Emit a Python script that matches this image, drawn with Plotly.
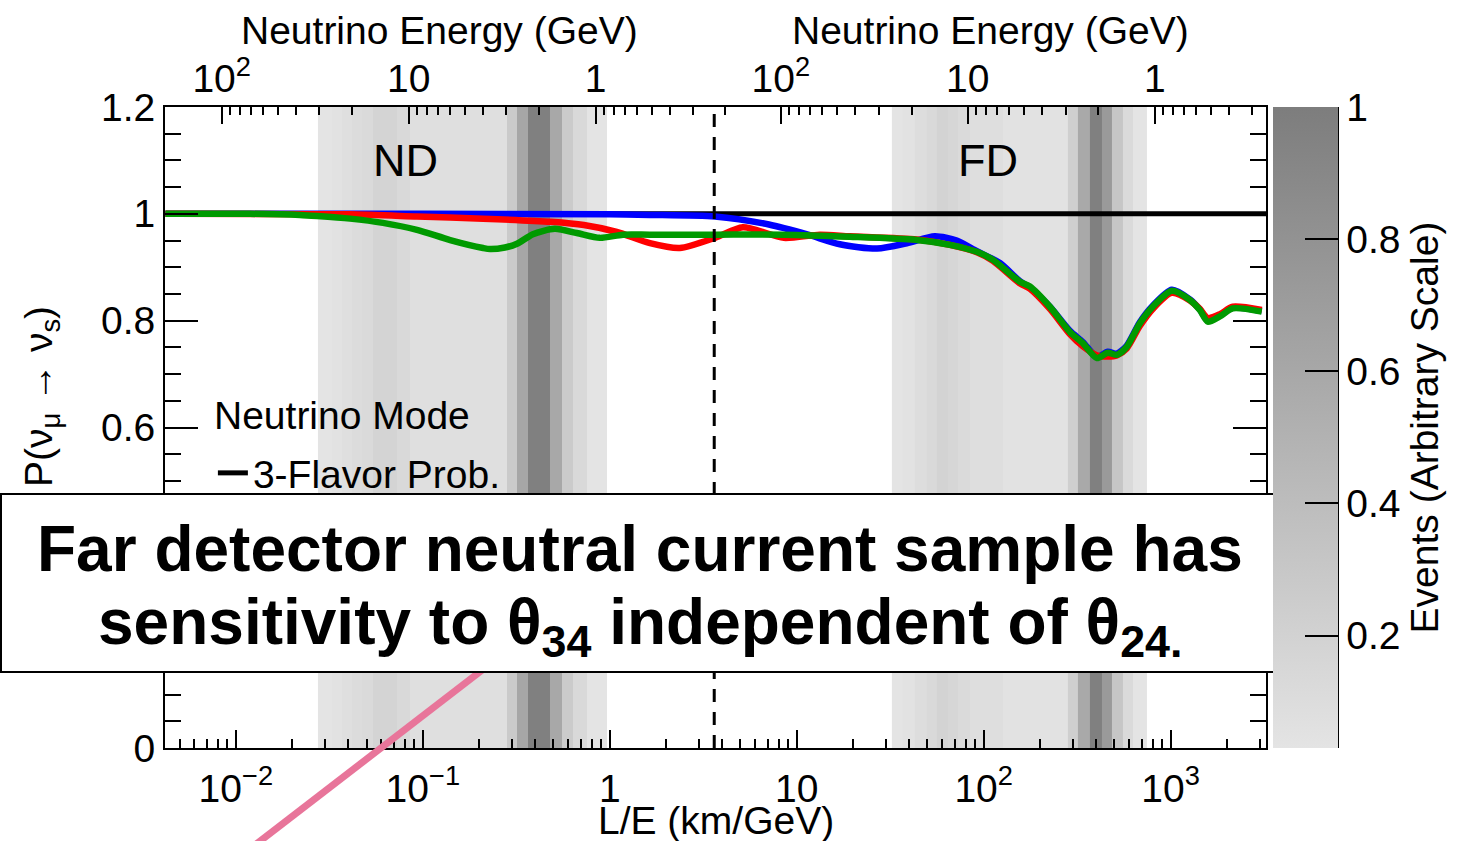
import plotly.graph_objects as go

FONT = "Liberation Sans, Arial, Helvetica, sans-serif"
FS = 39

# L/E axis range (log10 of km/GeV)
le_range_log = [-2.379, 3.51]

# baselines (km) used to label the neutrino-energy axes
L_ND = 0.84
L_FD = 822.0
energy_major = [100, 10, 1]
energy_major_text = ["10<sup>2</sup>", "10", "1"]
nd_energy_minor = [90, 80, 70, 60, 50, 40, 30, 20, 9, 8, 7, 6, 5, 4, 3, 2,
                   0.9, 0.8, 0.7, 0.6, 0.5, 0.4, 0.3]
fd_energy_minor = [200] + nd_energy_minor

le_major = [0.01, 0.1, 1, 10, 100, 1000]
le_major_text = ["10<sup>\u22122</sup>", "10<sup>\u22121</sup>", "1", "10",
                 "10<sup>2</sup>", "10<sup>3</sup>"]

# event distributions in L/E (bin edges, relative event rate)
nd_edges = [0.0275, 0.0327, 0.0370, 0.0418, 0.0472, 0.0541, 0.0728, 0.0853,
            0.282, 0.318, 0.365, 0.479, 0.555, 0.635, 0.755, 0.966]
nd_events = [0.03, 0.05, 0.08, 0.105, 0.12, 0.18, 0.13, 0.08,
             0.275, 0.61, 0.97, 0.595, 0.265, 0.13, 0.03]
fd_edges = [32.3, 37.0, 42.9, 49.7, 56.1, 64.3, 72.7, 84.3, 126.5,
            281.8, 318.6, 369.8, 428.6, 484.2, 554.6, 627.0, 745.0]
fd_events = [0.03, 0.05, 0.095, 0.13, 0.19, 0.16, 0.12, 0.087, 0.05,
             0.23, 0.585, 0.97, 0.73, 0.31, 0.12, 0.03]

# 3-flavor probability
le_3flavor = [0.0042, 3240]
p_3flavor = [1.0, 1.0]

# 3+1 probabilities
le_blue = [0.0042, 0.1, 1.0, 1.64, 3.65, 7.1, 11.5, 17.0, 26.9, 38.8, 54.8,
           71.8, 91.9, 122, 156, 176.5, 226, 289, 339, 403, 461, 515, 582,
           684, 802, 1014, 1266, 1432, 1581, 1833, 2149, 3070]
p_blue = [1.0, 1.0, 0.999, 0.998, 0.995, 0.980, 0.961, 0.943, 0.935, 0.945,
          0.958, 0.950, 0.930, 0.908, 0.874, 0.862, 0.826, 0.781, 0.760,
          0.732, 0.742, 0.738, 0.753, 0.797, 0.828, 0.858, 0.840, 0.821,
          0.800, 0.810, 0.824, 0.818]

le_red = [0.0042, 0.0408, 0.093, 0.210, 0.483, 0.727, 1.09, 1.64, 2.37, 3.65,
          5.15, 8.53, 13.3, 19.2, 43.9, 65.9, 91.9, 112, 156, 176.5, 226, 289,
          339, 403, 461, 515, 582, 684, 802, 1014, 1266, 1432, 1581, 1833,
          2149, 3070]
p_red = [1.0, 0.999, 0.995, 0.991, 0.985, 0.979, 0.966, 0.945, 0.936, 0.955,
         0.975, 0.955, 0.961, 0.958, 0.952, 0.942, 0.928, 0.912, 0.870, 0.860,
         0.822, 0.775, 0.752, 0.735, 0.733, 0.735, 0.748, 0.790, 0.822, 0.852,
         0.838, 0.822, 0.805, 0.812, 0.826, 0.820]

le_green = [0.0042, 0.0119, 0.022, 0.0272, 0.0408, 0.0612, 0.093, 0.140,
            0.210, 0.229, 0.275, 0.319, 0.388, 0.508, 0.667, 0.885, 1.175,
            1.64, 3.65, 8.5, 19.2, 43.9, 65.9, 91.9, 112, 156, 176.5, 226,
            289, 339, 403, 461, 515, 582, 684, 802, 1014, 1266, 1432, 1581,
            1833, 2149, 3070]
p_green = [1.0, 1.0, 0.998, 0.996, 0.991, 0.983, 0.970, 0.951, 0.936, 0.934,
           0.937, 0.944, 0.962, 0.972, 0.964, 0.955, 0.961, 0.961, 0.961,
           0.961, 0.957, 0.951, 0.942, 0.929, 0.914, 0.873, 0.864, 0.826,
           0.779, 0.758, 0.730, 0.740, 0.736, 0.751, 0.795, 0.826, 0.856,
           0.839, 0.820, 0.798, 0.808, 0.823, 0.817]

# ND / FD boundary on the L/E axis
le_boundary = 3.62

fig = go.Figure()

for edges, ev in ((nd_edges, nd_events), (fd_edges, fd_events)):
    fig.add_trace(go.Heatmap(x=edges, y=[0, 1.2], z=[ev], coloraxis="coloraxis",
                             hoverinfo="skip"))

fig.add_trace(go.Scatter(x=le_3flavor, y=p_3flavor, mode="lines",
                         line=dict(color="black", width=5),
                         name="3-Flavor Prob.", showlegend=True))
for le, p, col in ((le_blue, p_blue, "#0000ff"), (le_red, p_red, "#ff0000"),
                   (le_green, p_green, "#009a00")):
    fig.add_trace(go.Scatter(x=le, y=p, mode="lines", showlegend=False,
                             line=dict(color=col, width=6.5, shape="spline",
                                       smoothing=0.7)))

fig.add_trace(go.Scatter(x=[le_boundary, le_boundary], y=[0, 1.2], mode="lines",
                         xaxis="x2", showlegend=False,
                         line=dict(color="black", width=3, dash="13px,10px")))

le_minor = [m * 10 ** d for d in range(-3, 4) for m in range(2, 10)
            if 10 ** le_range_log[0] < m * 10 ** d < 10 ** le_range_log[1]]

top_major = [L_ND / e for e in energy_major] + [L_FD / e for e in energy_major]
top_text = energy_major_text + energy_major_text
top_minor = [L_ND / e for e in nd_energy_minor] + [L_FD / e for e in fd_energy_minor]

axis_font = dict(family=FONT, size=FS, color="black")

fig.update_layout(
    width=1484, height=841, autosize=False,
    margin=dict(l=165, r=218, t=107, b=93),
    paper_bgcolor="white", plot_bgcolor="white",
    font=dict(family=FONT, size=FS, color="black"),
    xaxis=dict(type="log", range=le_range_log, showgrid=False, zeroline=False,
               showline=True, linecolor="black", linewidth=2,
               ticks="inside", ticklen=18, tickwidth=2, tickcolor="black",
               tickmode="array", tickvals=le_major, ticktext=le_major_text,
               tickfont=axis_font, ticklabelstandoff=5,
               minor=dict(tickmode="array", tickvals=le_minor, ticks="inside",
                          ticklen=9, tickwidth=2, tickcolor="black")),
    xaxis2=dict(type="log", range=le_range_log, overlaying="x", side="top",
                showgrid=False, zeroline=False, showline=True,
                linecolor="black", linewidth=2,
                ticks="inside", ticklen=17, tickwidth=2, tickcolor="black",
                tickmode="array", tickvals=top_major, ticktext=top_text,
                tickfont=axis_font, ticklabelstandoff=-3,
                minor=dict(tickmode="array", tickvals=top_minor, ticks="inside",
                           ticklen=8, tickwidth=2, tickcolor="black")),
    yaxis=dict(range=[0, 1.2], showgrid=False, zeroline=False, showline=True,
               linecolor="black", linewidth=2, mirror="ticks",
               ticks="inside", ticklen=33, tickwidth=2, tickcolor="black",
               tickmode="linear", tick0=0, dtick=0.2, tickfont=axis_font,
               ticklabelstandoff=0,
               minor=dict(dtick=0.05, ticks="inside", ticklen=16, tickwidth=2,
                          tickcolor="black")),
    coloraxis=dict(cmin=0.03, cmax=1.0,
                   colorscale=[[0, "#e4e4e4"], [1, "#7d7d7d"]],
                   colorbar=dict(x=1.0064, xanchor="left", xpad=0, ypad=0,
                                 y=0.5, yanchor="middle", len=1, lenmode="fraction",
                                 thickness=65, thicknessmode="pixels",
                                 outlinewidth=0, ticks="inside", ticklen=33,
                                 tickwidth=2, tickcolor="black",
                                 tickvals=[0.2, 0.4, 0.6, 0.8, 1.0],
                                 ticktext=["0.2", "0.4", "0.6", "0.8", "1"],
                                 tickfont=axis_font,
                                 title=dict(text="Events (Arbitrary Scale)",
                                            side="right", font=axis_font))),
    legend=dict(x=0.0435, y=0.429, xanchor="left", yanchor="middle",
                bgcolor="rgba(0,0,0,0)", borderwidth=0,
                font=dict(family=FONT, size=FS, color="black")),
    showlegend=True,
)

def px_x(px):
    return (px - 165) / 1101.0

def px_y(py):
    return (748 - py) / 641.0

shapes = [
    # right edge of the colour scale
    dict(type="line", xref="paper", yref="paper", x0=px_x(1338), x1=px_x(1338),
         y0=0, y1=1, line=dict(color="black", width=2)),
    # pointer line
    dict(type="line", xref="paper", yref="paper", x0=px_x(255), y0=px_y(845),
         x1=px_x(703), y1=px_y(500), line=dict(color="#e8759a", width=7)),
    # callout box
    dict(type="rect", xref="paper", yref="paper", x0=px_x(1), x1=px_x(1279),
         y0=px_y(672), y1=px_y(494), fillcolor="white",
         line=dict(color="black", width=2)),
]
fig.update_layout(shapes=shapes)

ann = [
    dict(text="Neutrino Energy (GeV)", x=px_x(439), y=px_y(30)),
    dict(text="Neutrino Energy (GeV)", x=px_x(990), y=px_y(30)),
    dict(text="ND", x=px_x(405), y=px_y(160), font=dict(family=FONT, size=45, color="black")),
    dict(text="FD", x=px_x(988), y=px_y(160), font=dict(family=FONT, size=45, color="black")),
    dict(text="Neutrino Mode", x=px_x(212), y=px_y(415), xanchor="left"),
    dict(text="L/E (km/GeV)", x=px_x(716), y=px_y(820)),
    dict(text="P(\u03bd<sub>\u03bc</sub> \u2192 \u03bd<sub>s</sub>)", x=px_x(42),
         y=px_y(397), textangle=-90),
    dict(text="<b>Far detector neutral current sample has</b>", x=px_x(640),
         y=px_y(549), font=dict(family=FONT, size=64, color="black")),
    dict(text="<b>sensitivity to \u03b8<sub>34</sub> independent of \u03b8<sub>24.</sub></b>",
         x=px_x(640), y=px_y(626), font=dict(family=FONT, size=64, color="black")),
]
for a in ann:
    a.setdefault("xanchor", "center")
    a.setdefault("yanchor", "middle")
    a.setdefault("font", axis_font)
    fig.add_annotation(xref="paper", yref="paper", showarrow=False, **a)

fig.write_html("out.html")
